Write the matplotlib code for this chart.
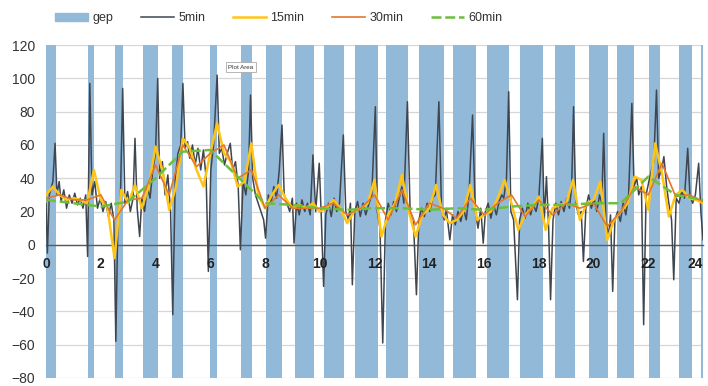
import numpy as np
import matplotlib.pyplot as plt
from matplotlib.patches import Patch
from matplotlib.lines import Line2D

plt.rcParams['font.family'] = ['Liberation Sans', 'DejaVu Sans']

# gep-perioder (timer), start og slutt
gep_start = [0.00, 1.54, 2.52, 3.55, 4.61, 6.00, 7.13, 8.04, 9.10, 10.16, 11.30,
             12.43, 13.64, 14.88, 16.12, 17.33, 18.58, 19.82, 20.84, 22.01, 23.11, 23.91]
gep_end = [0.35, 1.76, 2.82, 4.10, 5.01, 6.25, 7.53, 8.63, 9.80, 10.90, 12.14,
           13.24, 14.52, 15.69, 16.93, 18.17, 19.34, 20.51, 21.46, 22.41, 23.58, 24.00]

# 5min-serie (tid i timer, verdi)
t5 = [0.00, 0.05, 0.12, 0.25, 0.33, 0.40, 0.48, 0.55, 0.65, 0.75, 0.85, 0.95, 1.05, 1.15,
      1.25, 1.35, 1.45, 1.52, 1.60, 1.68, 1.78, 1.88, 1.98, 2.08, 2.18, 2.28, 2.38, 2.48,
      2.55, 2.62, 2.72, 2.80, 2.88, 2.98, 3.08, 3.18, 3.25, 3.33, 3.42, 3.50, 3.60, 3.70,
      3.80, 3.90, 4.00, 4.08, 4.15, 4.25, 4.35, 4.45, 4.55, 4.63, 4.72, 4.82, 4.92, 5.00,
      5.08, 5.17, 5.25, 5.35, 5.45, 5.55, 5.65, 5.75, 5.85, 5.93, 6.02, 6.12, 6.25, 6.33,
      6.42, 6.52, 6.62, 6.73, 6.82, 6.92, 7.02, 7.10, 7.20, 7.30, 7.40, 7.47, 7.55, 7.65,
      7.75, 7.85, 7.95, 8.02, 8.12, 8.22, 8.32, 8.42, 8.52, 8.62, 8.70, 8.80, 8.90, 9.00,
      9.06, 9.15, 9.25, 9.35, 9.45, 9.55, 9.65, 9.75, 9.85, 9.98, 10.06, 10.14, 10.22,
      10.32, 10.42, 10.52, 10.62, 10.72, 10.86, 10.95, 11.05, 11.12, 11.19, 11.28, 11.38,
      11.48, 11.58, 11.68, 11.80, 11.90, 12.03, 12.10, 12.20, 12.30, 12.40, 12.50, 12.60,
      12.70, 12.80, 12.90, 13.00, 13.07, 13.20, 13.30, 13.42, 13.53, 13.62, 13.72, 13.82,
      13.92, 14.02, 14.12, 14.22, 14.35, 14.45, 14.55, 14.62, 14.75, 14.85, 14.95, 15.05,
      15.15, 15.25, 15.35, 15.45, 15.58, 15.68, 15.78, 15.88, 15.97, 16.05, 16.15, 16.25,
      16.35, 16.45, 16.55, 16.65, 16.72, 16.82, 16.90, 16.98, 17.08, 17.22, 17.30, 17.40,
      17.50, 17.60, 17.70, 17.80, 17.90, 18.00, 18.13, 18.20, 18.28, 18.36, 18.43, 18.52,
      18.62, 18.72, 18.82, 18.92, 19.02, 19.12, 19.20, 19.27, 19.35, 19.45, 19.55, 19.63,
      19.72, 19.82, 19.92, 20.02, 20.12, 20.22, 20.30, 20.37, 20.45, 20.55, 20.62, 20.70,
      20.78, 20.88, 20.98, 21.08, 21.18, 21.28, 21.40, 21.48, 21.58, 21.65, 21.75, 21.83,
      21.92, 22.02, 22.12, 22.20, 22.30, 22.38, 22.48, 22.57, 22.67, 22.75, 22.85, 22.93,
      23.02, 23.12, 23.22, 23.32, 23.44, 23.52, 23.62, 23.72, 23.84, 23.92, 24.00]
v5 = [25, -5, 30, 38, 61, 30, 38, 26, 33, 22, 30, 25, 31, 24,
      28, 22, 30, -7, 97, 30, 38, 22, 28, 20, 26, 17, 25, 15,
      -58, 10, 30, 94, 25, 32, 20, 28, 64, 22, 5, 28, 20, 35,
      28, 45, 55, 100, 40, 50, 30, 42, 20, -42, 40, 55, 60, 97,
      58, 62, 52, 60, 48, 58, 45, 57, 40, -16, 45, 60, 102, 55,
      58, 48, 55, 61, 45, 50, 35, -3, 38, 30, 45, 90, 40, 30,
      25, 20, 15, 4, 30, 25, 35, 28, 45, 72, 30, 25, 20, 28,
      1, 25, 18, 27, 20, 25, 18, 54, 20, 49, 15, -25, 18,
      25, 17, 28, 20, 25, 66, 20, 15, 25, -24, 20, 26,
      17, 25, 18, 25, 30, 83, 20, 10, -59, 15, 25, 18,
      26, 20, 28, 35, 25, 86, 20, 15, -30, 15, 22, 17,
      25, 20, 28, 30, 86, 20, 15, 22, 3, 18, 12, 20,
      14, 22, 15, 30, 78, 20, 10, 22, 1, 20, 25, 16,
      24, 18, 26, 30, 28, 40, 92, 20, 15, -33, 15, 22,
      16, 25, 18, 24, 20, 28, 64, 15, 41, 10, -33, 15,
      25, 18, 26, 20, 28, 22, 35, 83, 25, 18, 20, -10,
      22, 30, 22, 28, 20, 30, 25, 67, 15, 5, 18, -28,
      15, 20, 14, 25, 18, 30, 85, 35, 40, 30, 35, -48,
      30, 38, 45, 50, 93, 40, 45, 53, 35, 25, 15, -21,
      28, 25, 32, 28, 58, 30, 25, 30, 49, 20, 3]

# 15min-serie, kvarter
t15 = np.arange(0, 24.01, 0.25)
v15 = [30, 35, 30, 27, 28, 27, 25, 45, 27, 22, -8, 33, 25, 36, 22, 35,
       59, 45, 21, 35, 64, 58, 45, 35, 55, 73, 55, 50, 35, 38, 61, 30,
       22, 30, 36, 28, 22, 24, 22, 25, 20, 22, 27, 22, 13, 20, 22, 25,
       39, 5, 18, 25, 42, 20, 5, 18, 22, 36, 18, 13, 15, 20, 36, 15,
       18, 20, 28, 39, 25, 9, 18, 22, 29, 9, 22, 24, 25, 39, 15, 25,
       27, 38, 3, 15, 20, 25, 41, 39, 21, 61, 43, 17, 30, 33, 28, 27, 25]

# 30min-serie, halvtimer
t30 = np.arange(0, 24.01, 0.5)
v30 = [28, 30, 27, 27, 30, 15, 27, 28, 48, 30, 60, 47, 55, 60, 40, 45,
       22, 30, 22, 22, 22, 25, 18, 22, 30, 15, 33, 12, 25, 22, 16, 28,
       18, 25, 30, 17, 27, 18, 25, 22, 25, 11, 20, 35, 30, 49, 29, 30, 26]

# 60min-serie, timer
t60 = np.arange(0, 25, 1)
v60 = [27, 25, 23, 26, 40, 56, 57, 41, 25, 24, 22, 21, 22, 22, 21, 22,
       21, 23, 24, 24, 25, 25, 41, 30, 27]

fig = plt.figure(figsize=(7.08, 3.86), dpi=100)
ax = fig.add_axes([0.065, 0.021, 0.928, 0.862])

gs = np.array(gep_start)
ge = np.array(gep_end)
ax.bar((gs + ge) / 2, 200, width=ge - gs, bottom=-80, color='#93b9d9', zorder=1)

ax.plot(t5, v5, color='#3f4650', lw=1.1, zorder=3)
ax.plot(t15, v15, color='#ffc516', lw=1.8, zorder=4)
ax.plot(t30, v30, color='#e3782c', lw=1.2, zorder=5)
ax.plot(t60, v60, color='#6cbf3c', lw=1.8, dashes=(4, 1.5), zorder=6)

ax.set_xlim(0, 24)
ax.set_ylim(-80, 120)
ax.set_xticks(range(0, 25, 2))
ax.set_yticks(range(-80, 121, 20))
ax.yaxis.grid(True, color='#d6d6d6', lw=0.9)
ax.set_axisbelow(True)
ax.xaxis.set_zorder(7)

for s in ['top', 'right', 'left']:
    ax.spines[s].set_visible(False)
ax.spines['bottom'].set_position(('data', 0))
ax.spines['bottom'].set_color('#5a5a5a')
ax.spines['bottom'].set_linewidth(1.0)
ax.spines['bottom'].set_zorder(2.5)

ax.tick_params(axis='x', length=0, pad=9, labelsize=10, labelcolor='#222222')
ax.tick_params(axis='y', length=0, pad=8, labelsize=10, labelcolor='#333333')
for lab in ax.get_xticklabels():
    lab.set_fontweight('bold')
ax.get_xticklabels()[-1].set_horizontalalignment('right')

handles = [Patch(color='#93b9d9'),
           Line2D([], [], color='#3f4650', lw=1.1),
           Line2D([], [], color='#ffc516', lw=1.8),
           Line2D([], [], color='#e3782c', lw=1.2),
           Line2D([], [], color='#6cbf3c', lw=1.8, dashes=(4, 1.5))]
labels = ['gep', '5min', '15min', '30min', '60min']
fig.legend(handles, labels, loc='upper left', bbox_to_anchor=(0.062, 0.997), ncol=5,
           frameon=False, handlelength=2.6, columnspacing=2.2, handletextpad=0.4,
           fontsize=9, labelcolor='#333333')

fig.text(0.34, 0.826, 'Plot Area', fontsize=4.5, ha='center', va='center', color='#333333',
         bbox=dict(boxstyle='square,pad=0.4', fc='white', ec='#aaaaaa', lw=0.6), zorder=10)

plt.savefig('out.png', dpi=100)
